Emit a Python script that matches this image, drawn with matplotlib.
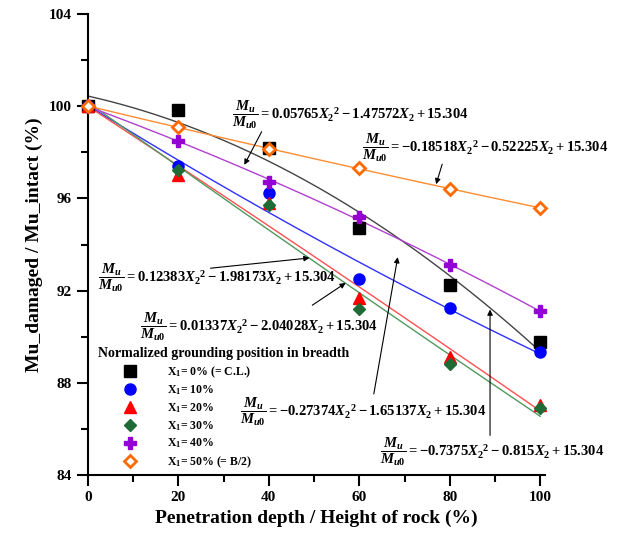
import numpy as np
import matplotlib
matplotlib.use('Agg')
import matplotlib.pyplot as plt

plt.rcParams['font.family'] = 'Liberation Serif'
plt.rcParams['font.weight'] = 'bold'
plt.rcParams['mathtext.fontset'] = 'custom'
plt.rcParams['mathtext.rm'] = 'Liberation Serif:bold'
plt.rcParams['mathtext.bf'] = 'Liberation Serif:bold'
plt.rcParams['mathtext.it'] = 'Liberation Serif:bold:italic'

# données
penetration = [0, 20, 40, 60, 80, 100]
x1_0 = [100, 99.85, 98.2, 94.7, 92.25, 89.75]
x1_10 = [100, 97.4, 96.25, 92.5, 91.25, 89.35]
x1_20 = [100, 97.0, 95.8, 91.7, 89.1, 87.05]
x1_30 = [100, 97.25, 95.7, 91.2, 88.8, 86.9]
x1_40 = [100, 98.5, 96.7, 95.2, 93.1, 91.1]
x1_50 = [100, 99.1, 98.15, 97.3, 96.4, 95.6]

labels = ['X$_1$= 0% (= C.L.)', 'X$_1$= 10%', 'X$_1$= 20%', 'X$_1$= 30%',
          'X$_1$= 40%', 'X$_1$= 50% (= B/2)']

equations = [
    r'$\dfrac{M_u}{M_{u0}} = 0.05765X_2{}^2 - 1.47572X_2 + 15.304$',
    r'$\dfrac{M_u}{M_{u0}} = -0.18518X_2{}^2 - 0.52225X_2 + 15.304$',
    r'$\dfrac{M_u}{M_{u0}} = 0.12383X_2{}^2 - 1.98173X_2 + 15.304$',
    r'$\dfrac{M_u}{M_{u0}} = 0.01337X_2{}^2 - 2.04028X_2 + 15.304$',
    r'$\dfrac{M_u}{M_{u0}} = -0.27374X_2{}^2 - 1.65137X_2 + 15.304$',
    r'$\dfrac{M_u}{M_{u0}} = -0.7375X_2{}^2 - 0.815X_2 + 15.304$',
]
# position du texte, départ et pointe de la flèche
eq_text = [(31.9, 99.65), (60.6, 98.2), (2.2, 92.57), (11.5, 90.45), (33.6, 86.74), (64.6, 85.0)]
eq_start = [(38.7, 99.0), (78.5, 97.6), (26.5, 92.96), (49.1, 91.3), (63.1, 87.4), (88.9, 85.6)]
eq_tip = [(34.3, 97.35), (76.8, 96.5), (49.6, 93.43), (57.5, 92.4), (68.6, 93.57), (88.9, 91.3)]

fig = plt.figure(figsize=(6.32, 5.38), dpi=100)
ax = fig.add_axes([0.139, 0.117, 0.723, 0.857])

series = [x1_0, x1_10, x1_20, x1_30, x1_40, x1_50]
line_colors = ['#444444', '#3030ff', '#ff5050', '#4f9a5f', '#b040d0', '#ff8c30']
mk = [dict(marker='s', color='black'),
      dict(marker='o', color='#0000ff'),
      dict(marker='^', color='#ff0000'),
      dict(marker='D', color='#1f6b35', markersize=6.5),
      dict(marker='P', color='#9400d3'),
      dict(marker='D', color='#ff6a00', markerfacecolor='white', markeredgewidth=2, markersize=6)]

xs = np.linspace(0, 100, 200)
for ys, c in zip(series, line_colors):
    p = np.polyfit(penetration, ys, 2)
    ax.plot(xs, np.polyval(p, xs), '-', color=c, lw=1)

for ys, m, lab in zip(series, mk, labels):
    kw = dict(markersize=8, linestyle='none')
    kw.update(m)
    ax.plot(penetration, ys, label=lab, clip_on=False, zorder=5, **kw)

for eq, t, s, e in zip(equations, eq_text, eq_start, eq_tip):
    ax.text(t[0], t[1], eq, fontsize=10.5, ha='left', va='center')
    ax.annotate('', xy=e, xytext=s,
                arrowprops=dict(arrowstyle='-|>', color='black', lw=0.8, mutation_scale=8))

ax.set_xlim(0, 101)
ax.set_ylim(84, 104)
ax.set_xticks([0, 20, 40, 60, 80, 100])
ax.set_xticks([10, 30, 50, 70, 90], minor=True)
ax.set_yticks([84, 88, 92, 96, 100, 104])
ax.set_yticks([86, 90, 94, 98, 102], minor=True)
ax.spines['top'].set_visible(False)
ax.spines['right'].set_visible(False)
ax.spines['left'].set_linewidth(1.5)
ax.spines['bottom'].set_linewidth(1.5)
ax.tick_params(which='major', length=8, width=1.5, labelsize=11)
ax.tick_params(which='minor', length=5, width=1.5)

ax.set_xlabel('Penetration depth / Height of rock (%)', fontsize=14, fontweight='bold')
ax.set_ylabel('Mu_damaged / Mu_intact (%)', fontsize=14, fontweight='bold')

leg = ax.legend(loc='upper left', bbox_to_anchor=(0.0, 0.3), frameon=False,
                title='Normalized grounding position in breadth',
                title_fontproperties={'weight': 'bold', 'size': 10},
                fontsize=8.5, handletextpad=0.5, labelspacing=0.33, handlelength=5.3)
leg._legend_box.align = 'left'

fig.savefig('out.png', dpi=100)
